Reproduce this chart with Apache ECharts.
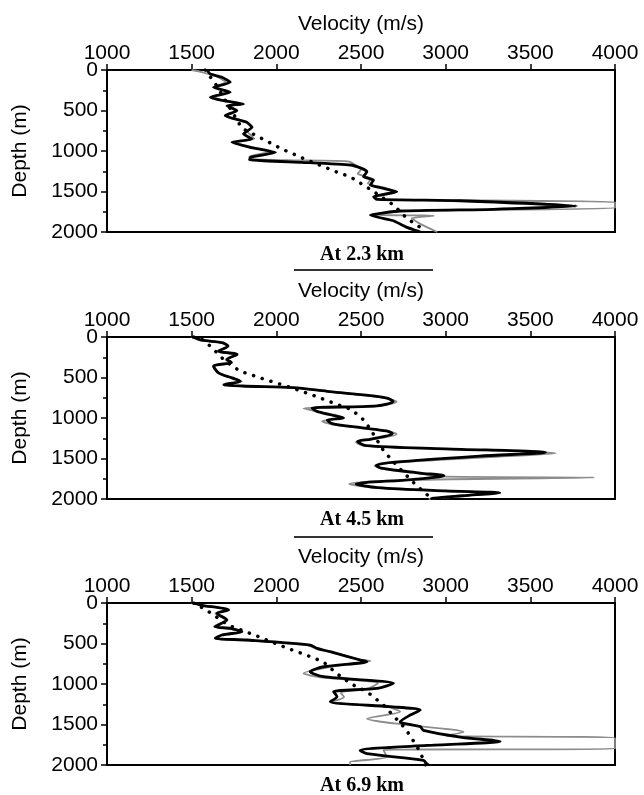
<!DOCTYPE html>
<html><head><meta charset="utf-8">
<script src="https://cdn.jsdelivr.net/npm/echarts@6/dist/echarts.min.js"></script>
<style>html,body{margin:0;padding:0;background:#fff}#c{width:644px;height:795px}</style>
</head><body><div id="c"></div>
<script>
// Tick labels / axes
const velocityTicks = [1000, 1500, 2000, 2500, 3000, 3500, 4000];
const depthTicks = [0, 500, 1000, 1500, 2000];
const panelTitles = ['At 2.3 km', 'At 4.5 km', 'At 6.9 km'];

// Panel 1 (At 2.3 km): [velocity m/s, depth m]
const p1Black = [[1590,0],[1610,49],[1679,90],[1728,152],[1629,214],[1728,276],[1610,337],[1688,379],[1806,420],[1708,441],[1767,502],[1698,564],[1826,646],[1856,708],[1806,790],[1856,852],[1738,893],[1846,955],[1995,1020],[1850,1075],[1842,1108],[2150,1140],[2437,1173],[2500,1212],[2535,1255],[2515,1317],[2574,1359],[2555,1420],[2633,1461],[2712,1503],[2574,1564],[2594,1597],[3086,1614],[3773,1680],[3282,1720],[2731,1741],[2555,1791],[2613,1824],[2692,1861],[2771,1943],[2830,1985],[2850,2000]];
const p1Gray = [[1500,0],[1560,25],[1650,80],[1700,150],[1640,210],[1720,270],[1620,330],[1700,380],[1790,425],[1720,445],[1760,500],[1700,565],[1820,640],[1860,705],[1830,760],[1870,850],[1750,890],[1850,950],[1960,1010],[1840,1070],[1850,1100],[2100,1115],[2430,1130],[2500,1230],[2480,1280],[2560,1340],[2540,1400],[2650,1460],[2700,1500],[2580,1560],[2610,1600],[4000,1630],[4000,1705],[2750,1740],[2580,1790],[2870,1795],[2930,1800],[2800,1830],[2850,1900],[2950,2000]];
const p1Dotted = [[1580,0],[1650,200],[1720,450],[1797,720],[1893,823],[2033,976],[2181,1111],[2279,1194],[2377,1276],[2436,1317],[2560,1480],[2692,1667],[2771,1832],[2859,1955],[2880,2000]];

// Panel 2 (At 4.5 km)
const p2Black = [[1511,0],[1560,40],[1679,70],[1715,112],[1659,174],[1768,215],[1709,277],[1735,315],[1630,360],[1659,443],[1738,505],[1787,547],[1690,588],[1800,605],[2100,625],[2300,670],[2500,712],[2653,754],[2690,795],[2594,850],[2210,878],[2240,919],[2320,960],[2397,1000],[2300,1025],[2330,1070],[2500,1120],[2650,1160],[2685,1190],[2560,1260],[2480,1290],[2530,1340],[3000,1380],[3590,1425],[3200,1470],[2700,1545],[2590,1585],[2620,1620],[2850,1680],[2990,1712],[2800,1760],[2470,1815],[2600,1860],[3000,1900],[3320,1922],[3100,1960],[2930,1990],[2910,2000]];
const p2Gray = [[1500,0],[1550,40],[1670,70],[1710,115],[1650,175],[1770,220],[1700,280],[1730,320],[1625,360],[1655,445],[1740,505],[1795,550],[1700,590],[1800,605],[2100,628],[2300,672],[2500,715],[2660,760],[2710,800],[2580,855],[2160,880],[2230,915],[2330,955],[2400,995],[2270,1040],[2320,1075],[2500,1125],[2660,1165],[2710,1200],[2560,1265],[2470,1295],[2520,1345],[3000,1385],[3650,1435],[3300,1480],[2700,1550],[2580,1590],[2620,1625],[2850,1690],[3000,1725],[3880,1735],[2800,1765],[2430,1815],[2600,1865],[3000,1905],[3280,1925],[3100,1965],[2920,1995],[2900,2000]];
const p2Dotted = [[1511,0],[1561,29],[1610,112],[1698,298],[1787,422],[1905,505],[2063,609],[2181,692],[2338,816],[2446,898],[2515,1022],[2554,1134],[2633,1403],[2712,1590],[2771,1714],[2820,1817],[2899,1962],[2910,2000]];

// Panel 3 (At 6.9 km)
const p3Black = [[1511,0],[1551,25],[1718,86],[1649,128],[1708,210],[1639,292],[1728,313],[1797,354],[1679,395],[1639,436],[1826,457],[2200,519],[2240,560],[2318,601],[2495,704],[2535,725],[2279,787],[2200,848],[2279,910],[2692,992],[2594,1054],[2338,1095],[2358,1157],[2318,1219],[2672,1280],[2850,1321],[2791,1383],[2731,1466],[2850,1527],[2869,1573],[3086,1655],[3322,1709],[2889,1758],[2495,1820],[2535,1861],[2869,1943],[2889,1984],[2900,2000]];
const p3Gray = [[1500,0],[1540,20],[1700,80],[1640,130],[1700,210],[1630,290],[1720,315],[1790,355],[1670,395],[1650,440],[1820,460],[2180,520],[2230,560],[2320,605],[2500,700],[2555,715],[2400,760],[2160,868],[2250,915],[2600,990],[2550,1050],[2380,1110],[2400,1160],[2330,1220],[2650,1280],[2731,1343],[2535,1429],[2600,1460],[2750,1500],[3106,1593],[3000,1640],[4000,1667],[4000,1800],[2633,1815],[2652,1902],[2436,1964],[2436,2000]];
const p3Dotted = [[1511,0],[1590,91],[1718,276],[1876,399],[1974,482],[2073,564],[2181,646],[2279,729],[2358,873],[2447,1005],[2535,1095],[2633,1260],[2761,1548],[2800,1671],[2849,1837],[2880,2000]];

const panels = [
  {black: p1Black, gray: p1Gray, dotted: p1Dotted, top: 70, smooth: 0.15},
  {black: p2Black, gray: p2Gray, dotted: p2Dotted, top: 337, smooth: 0.3},
  {black: p3Black, gray: p3Gray, dotted: p3Dotted, top: 603, smooth: 0.25}
];

const FONT = 'Liberation Sans, Arial, sans-serif';
const plain = v => String(v);
const grids = [], xAxes = [], yAxes = [], series = [], graphics = [];
panels.forEach((p, i) => {
  grids.push({left: 107, top: p.top, width: 508, height: 162, show: true, borderColor: '#000', borderWidth: 2, backgroundColor: 'transparent'});
  xAxes.push({
    type: 'value', gridIndex: i, position: 'top', min: velocityTicks[0], max: velocityTicks[velocityTicks.length-1], interval: 500,
    name: 'Velocity (m/s)', nameLocation: 'middle', nameGap: 35,
    nameTextStyle: {fontFamily: FONT, fontSize: 21, color: '#000'},
    axisLine: {lineStyle: {color: '#000', width: 2}},
    axisTick: {inside: false, length: 6, lineStyle: {color: '#000', width: 1.5}},
    axisLabel: {fontFamily: FONT, fontSize: 21, color: '#000', margin: 6, formatter: plain},
    splitLine: {show: false}
  });
  yAxes.push({
    type: 'value', gridIndex: i, inverse: true, min: depthTicks[0], max: depthTicks[depthTicks.length-1], interval: 500,
    name: 'Depth (m)', nameLocation: 'middle', nameGap: 76, nameRotate: 90,
    nameTextStyle: {fontFamily: FONT, fontSize: 21, color: '#000'},
    axisLine: {lineStyle: {color: '#000', width: 2}},
    axisTick: {inside: false, length: 6, lineStyle: {color: '#000', width: 1.5}},
    minorTick: {show: true, splitNumber: 2, length: 4, lineStyle: {color: '#000', width: 1.5}},
    axisLabel: {fontFamily: FONT, fontSize: 21, color: '#000', margin: 9, formatter: plain},
    splitLine: {show: false}
  });
  series.push({type: 'line', xAxisIndex: i, yAxisIndex: i, data: p.gray, showSymbol: false, smooth: p.smooth,
    lineStyle: {color: '#8c8c8c', width: 1.8}, z: 2, animation: false});
  series.push({type: 'line', xAxisIndex: i, yAxisIndex: i, data: p.dotted, showSymbol: false,
    lineStyle: {color: '#000', width: 3.5, type: [0.1, 9], cap: 'round'}, z: 3, animation: false});
  series.push({type: 'line', xAxisIndex: i, yAxisIndex: i, data: p.black, showSymbol: false, smooth: p.smooth,
    lineStyle: {color: '#000', width: 2.8}, z: 4, animation: false});
});

const titleY = [255, 520, 786];
titleY.forEach((y, i) => {
  graphics.push({type: 'text', x: 362, y: y, style: {text: panelTitles[i], fontFamily: 'Liberation Serif, Times New Roman, serif', fontWeight: 'bold', fontSize: 20, fill: '#000', textAlign: 'center', textVerticalAlign: 'middle'}});
});
[270, 537].forEach(y => {
  graphics.push({type: 'line', shape: {x1: 294, y1: y, x2: 433, y2: y}, style: {stroke: '#333', lineWidth: 2}});
});

const chart = echarts.init(document.getElementById('c'), null, {renderer: 'canvas'});
chart.setOption({
  animation: false,
  grid: grids, xAxis: xAxes, yAxis: yAxes, series: series, graphic: graphics
});
</script>
</body></html>
